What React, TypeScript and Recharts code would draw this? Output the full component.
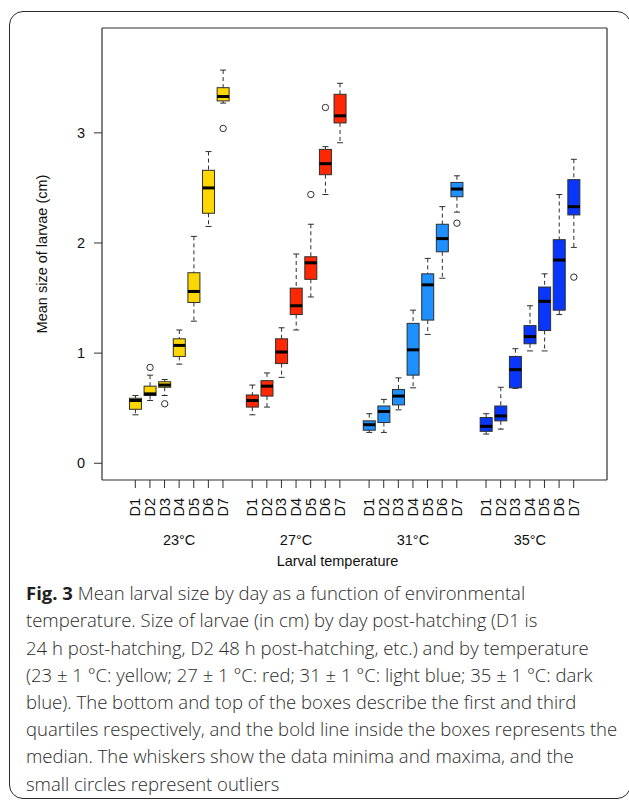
import React from 'react';
import { ComposedChart, Bar, XAxis, YAxis } from 'recharts';

// ---- data ----
const temps = ['23°C', '27°C', '31°C', '35°C'];
const days = ['D1', 'D2', 'D3', 'D4', 'D5', 'D6', 'D7'];
const yTicks = [0, 1, 2, 3];

// each entry: [lower whisker, Q1, median, Q3, upper whisker]
const box23 = [
  [0.44, 0.49, 0.57, 0.59, 0.615],
  [0.57, 0.615, 0.63, 0.7, 0.8],
  [0.615, 0.69, 0.71, 0.74, 0.76],
  [0.9, 0.97, 1.07, 1.13, 1.21],
  [1.29, 1.46, 1.56, 1.73, 2.06],
  [2.15, 2.27, 2.5, 2.66, 2.83],
  [3.27, 3.29, 3.33, 3.41, 3.57],
];
const box27 = [
  [0.44, 0.51, 0.57, 0.62, 0.71],
  [0.51, 0.61, 0.7, 0.75, 0.82],
  [0.78, 0.905, 1.01, 1.13, 1.23],
  [1.21, 1.35, 1.43, 1.59, 1.9],
  [1.51, 1.67, 1.82, 1.875, 2.17],
  [2.44, 2.62, 2.72, 2.85, 2.875],
  [2.91, 3.09, 3.155, 3.35, 3.45],
];
const box31 = [
  [0.28, 0.3, 0.35, 0.385, 0.45],
  [0.28, 0.37, 0.47, 0.52, 0.58],
  [0.485, 0.53, 0.61, 0.67, 0.775],
  [0.685, 0.8, 1.03, 1.27, 1.39],
  [1.17, 1.3, 1.62, 1.72, 1.86],
  [1.68, 1.92, 2.04, 2.17, 2.33],
  [2.28, 2.42, 2.49, 2.55, 2.61],
];
const box35 = [
  [0.265, 0.29, 0.335, 0.415, 0.45],
  [0.31, 0.385, 0.43, 0.52, 0.69],
  [0.68, 0.685, 0.85, 0.97, 1.04],
  [1.02, 1.085, 1.15, 1.25, 1.43],
  [1.02, 1.205, 1.47, 1.6, 1.72],
  [1.35, 1.39, 1.845, 2.03, 2.44],
  [1.96, 2.255, 2.33, 2.575, 2.76],
];
const outliers23 = [null, 0.87, 0.54, null, null, null, 3.04];
const outliers27 = [null, null, null, null, 2.44, 3.23, null];
const outliers31 = [null, null, null, null, null, null, 2.18];
const outliers35 = [null, null, null, null, null, null, 1.69];

const boxes = [box23, box27, box31, box35];
const outliers = [outliers23, outliers27, outliers31, outliers35];
const fills = ['#FFD700', '#FF2800', '#1E90FF', '#0836FA'];

const captionLines = [
  'temperature. Size of larvae (in cm) by day post-hatching (D1 is',
  '24 h post-hatching, D2 48 h post-hatching, etc.) and by temperature',
  '(23 ± 1 °C: yellow; 27 ± 1 °C: red; 31 ± 1 °C: light blue; 35 ± 1 °C: dark',
  'blue). The bottom and top of the boxes describe the first and third',
  'quartiles respectively, and the bold line inside the boxes represents the',
  'median. The whiskers show the data minima and maxima, and the',
  'small circles represent outliers',
];

// build chart rows (one slot per box, an empty slot between temperatures)
type Row = {
  key: string;
  gap: boolean;
  group: number;
  day: string;
  lo?: number; q1?: number; med?: number; q3?: number; hi?: number;
  outlier?: number | null;
  range?: [number, number] | null;
};
const rows: Row[] = [];
temps.forEach((t, g) => {
  days.forEach((d, i) => {
    const [lo, q1, med, q3, hi] = boxes[g][i];
    rows.push({ key: `${t}-${d}`, gap: false, group: g, day: d, lo, q1, med, q3, hi, outlier: outliers[g][i], range: [lo, hi] });
  });
  if (g < temps.length - 1) rows.push({ key: `gap-${g}`, gap: true, group: g, day: '', range: null });
});

const FONT = 'Arial, "Liberation Sans", Helvetica, sans-serif';
const INK = '#2e2e2e';
const txt = { fontFamily: FONT, fontSize: 14.5 };

const BoxShape = (props: any) => {
  const { x, y, width, height, payload } = props;
  if (!payload || payload.gap || payload.range == null) return null;
  const { lo, q1, med, q3, hi, outlier, group } = payload;
  const top = Math.min(y, y + height);
  const h = Math.abs(height);
  const k = h / (hi - lo);
  const py = (v: number) => top + (hi - v) * k;
  const cx = x + width / 2;
  const cap = width / 4;
  return (
    <g>
      <line x1={cx} x2={cx} y1={py(hi)} y2={py(q3)} stroke={INK} strokeWidth={1} strokeDasharray="4 3" />
      <line x1={cx} x2={cx} y1={py(q1)} y2={py(lo)} stroke={INK} strokeWidth={1} strokeDasharray="4 3" />
      <line x1={cx - cap} x2={cx + cap} y1={py(hi)} y2={py(hi)} stroke={INK} strokeWidth={1} />
      <line x1={cx - cap} x2={cx + cap} y1={py(lo)} y2={py(lo)} stroke={INK} strokeWidth={1} />
      <rect x={x} y={py(q3)} width={width} height={py(q1) - py(q3)} fill={fills[group]} stroke={INK} strokeWidth={1} />
      <line x1={x} x2={x + width} y1={py(med)} y2={py(med)} stroke="#000" strokeWidth={3} />
      {outlier != null && (
        <circle cx={cx} cy={py(outlier)} r={3.2} fill="none" stroke={INK} strokeWidth={1} />
      )}
    </g>
  );
};

const XTick = (props: any) => {
  const { x, y, payload } = props;
  const row = rows.find((r) => r.key === payload.value);
  if (!row || row.gap) return <g />;
  return (
    <g>
      <line x1={x} x2={x} y1={y - 18} y2={y - 10} stroke={INK} strokeWidth={1} />
      <text
        transform={`translate(${x},${y}) rotate(-90)`}
        textAnchor="end"
        dominantBaseline="central"
        style={txt}
        fill="#111"
      >
        {row.day}
      </text>
      {row.day === 'D4' && (
        <text x={x} y={y + 42} textAnchor="middle" dominantBaseline="central" style={txt} fill="#111">
          {temps[row.group]}
        </text>
      )}
    </g>
  );
};

export default function App() {
  return (
    <div style={{ position: 'absolute', left: 0, top: 0, width: 629, height: 800, background: '#fff', overflow: 'hidden' }}>
      <div
        style={{
          position: 'absolute', left: 9, top: 10.5, width: 622, height: 788,
          border: '1.5px solid #2a2a2a', borderRadius: 14, boxSizing: 'border-box',
        }}
      />
      <div style={{ position: 'absolute', left: 0, top: 0 }}>
        <ComposedChart
          width={629}
          height={600}
          data={rows}
          margin={{ top: 27, right: 21, bottom: 60, left: 42 }}
          barCategoryGap="10%"
        >
          <XAxis
            dataKey="key"
            type="category"
            interval={0}
            padding={{ left: 26, right: 26 }}
            height={60}
            tickSize={8}
            tickMargin={10}
            tickLine={false}
            axisLine={{ stroke: INK, strokeWidth: 1.2 }}
            tick={<XTick />}
            label={{
              content: (p: any) => {
                const vb = p.viewBox || { x: 102, y: 480, width: 505 };
                return (
                  <text x={vb.x + vb.width / 2 - 17} y={vb.y + 81} textAnchor="middle" dominantBaseline="central" style={txt} fill="#111">
                    Larval temperature
                  </text>
                );
              },
            }}
          />
          <XAxis xAxisId="top" orientation="top" dataKey="key" type="category" height={1} tick={false} tickLine={false} axisLine={{ stroke: INK, strokeWidth: 1.2 }} />
          <YAxis
            type="number"
            domain={[-0.152, 3.952]}
            ticks={yTicks}
            allowDataOverflow
            width={60}
            tickSize={8}
            tickMargin={9}
            tickLine={{ stroke: INK }}
            axisLine={{ stroke: INK, strokeWidth: 1.2 }}
            tick={{ ...txt, fill: '#111' }}
            label={{
              content: (p: any) => {
                const vb = p.viewBox || { x: 42, y: 28, height: 452 };
                const cy = vb.y + vb.height / 2;
                return (
                  <text transform={`translate(${vb.x},${cy}) rotate(-90)`} textAnchor="middle" dominantBaseline="central" style={txt} fill="#111">
                    Mean size of larvae (cm)
                  </text>
                );
              },
            }}
          />
          <YAxis yAxisId="right" orientation="right" type="number" domain={[-0.152, 3.952]} width={1} tick={false} tickLine={false} axisLine={{ stroke: INK, strokeWidth: 1.2 }} />
          <Bar dataKey="range" shape={<BoxShape />} isAnimationActive={false} />
        </ComposedChart>
      </div>
      <div
        style={{
          position: 'absolute', left: 26, top: 579.2, width: 600,
          fontFamily: '"Open Sans", "Noto Sans", sans-serif', fontSize: 18.5, lineHeight: '27.2px',
          color: '#2b2b2b', fontWeight: 300, whiteSpace: 'nowrap',
        }}
      >
        <div>
          <span style={{ fontWeight: 700, color: '#231f20' }}>Fig. 3</span> Mean larval size by day as a function of environmental
        </div>
        {captionLines.map((l, i) => (
          <div key={i}>{l}</div>
        ))}
      </div>
    </div>
  );
}
